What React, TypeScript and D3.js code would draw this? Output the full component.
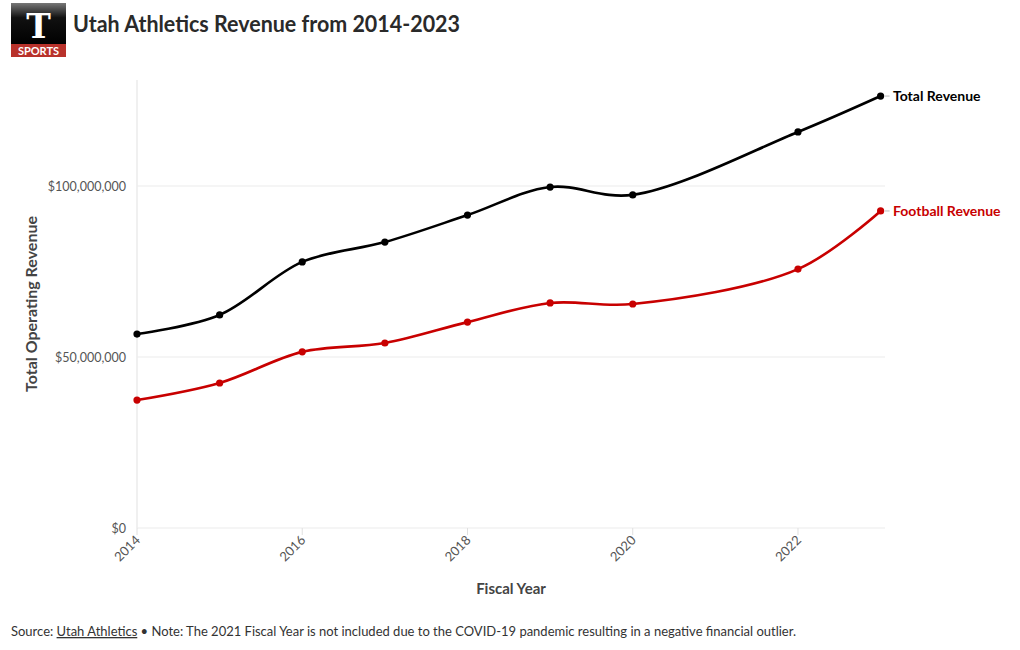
import React from "react";
import * as d3 from "d3";

const years = [2014, 2015, 2016, 2017, 2018, 2019, 2020, 2022, 2023];
const totalRevenue = [56.7e6, 62.3e6, 77.8e6, 83.6e6, 91.5e6, 99.7e6, 97.4e6, 115.8e6, 126.3e6];
const footballRevenue = [37.4e6, 42.4e6, 51.5e6, 54.1e6, 60.2e6, 65.8e6, 65.5e6, 75.7e6, 92.7e6];
const yTicks = [0, 50e6, 100e6];
const xTicks = [2014, 2016, 2018, 2020, 2022];
const seriesNames = ["Total Revenue", "Football Revenue"];

const W = 1020;
const H = 650;
const FONT = "Lato, 'Open Sans', sans-serif";

export default function App() {
  const x = d3.scaleLinear().domain([2014, 2023]).range([137, 880.6]);
  const y = d3.scaleLinear().domain([0, 100e6]).range([528, 186]);
  const fmt = (v: number) => "$" + d3.format(",")(v);

  const series = [
    { name: seriesNames[0], values: totalRevenue, color: "#000000" },
    { name: seriesNames[1], values: footballRevenue, color: "#c80000" },
  ];

  const line = d3
    .line<[number, number]>()
    .x((d) => x(d[0]))
    .y((d) => y(d[1]))
    .curve(d3.curveCatmullRom.alpha(0.5));

  return (
    <svg width={W} height={H} style={{ position: "absolute", left: 0, top: 0, background: "#fff" }}>
      <defs>
        <linearGradient id="logoGrad" x1="0" y1="0" x2="0" y2="1">
          <stop offset="0" stopColor="#777" />
          <stop offset="0.35" stopColor="#111" />
          <stop offset="1" stopColor="#000" />
        </linearGradient>
      </defs>
      <rect x={0} y={0} width={W} height={H} fill="#fff" />

      {/* Logo */}
      <rect x={11} y={3} width={55} height={42} fill="url(#logoGrad)" />
      <text x={38.5} y={38} textAnchor="middle" fill="#fff" fontFamily="'DejaVu Serif', serif" fontWeight={700} fontSize={33}>
        T
      </text>
      <rect x={11} y={44} width={55} height={13} fill="#b8322b" />
      <text x={38.5} y={55} textAnchor="middle" fill="#fff" fontFamily={FONT} fontWeight={700} fontSize={11}>
        SPORTS
      </text>

      {/* Title */}
      <text x={73} y={32} fill="#2a2a2a" fontFamily={FONT} fontWeight={700} fontSize={22} textLength={387} lengthAdjust="spacingAndGlyphs">
        Utah Athletics Revenue from 2014-2023
      </text>

      {/* Grid */}
      {yTicks.map((t) => (
        <line key={"g" + t} x1={137} x2={885} y1={y(t)} y2={y(t)} stroke="#ebebeb" strokeWidth={1} />
      ))}
      <line x1={137} x2={137} y1={80} y2={528} stroke="#ebebeb" strokeWidth={1.5} />
      {xTicks.map((t) => (
        <line key={"xt" + t} x1={x(t)} x2={x(t)} y1={528} y2={535} stroke="#e0e0e0" strokeWidth={1} />
      ))}

      {/* Y tick labels */}
      {yTicks.map((t) => (
        <text key={"yl" + t} x={126} y={y(t) + 5} textAnchor="end" fill="#555" fontFamily={FONT} fontSize={12.5}>
          {fmt(t)}
        </text>
      ))}

      {/* X tick labels */}
      {xTicks.map((t) => (
        <text
          key={"xl" + t}
          transform={`translate(${x(t) + 4},${541}) rotate(-45)`}
          textAnchor="end"
          fill="#555"
          fontFamily={FONT}
          fontSize={13}
        >
          {t}
        </text>
      ))}

      {/* Axis titles */}
      <text transform={`translate(37,304) rotate(-90)`} textAnchor="middle" fill="#444" fontFamily={FONT} fontWeight={700} fontSize={16}>
        Total Operating Revenue
      </text>
      <text x={511} y={594} textAnchor="middle" fill="#444" fontFamily={FONT} fontWeight={700} fontSize={15}>
        Fiscal Year
      </text>

      {/* Lines */}
      {series.map((s) => {
        const pts: [number, number][] = years.map((yr, i) => [yr, s.values[i]]);
        const last = pts[pts.length - 1];
        return (
          <g key={s.name}>
            <path d={line(pts) || ""} fill="none" stroke={s.color} strokeWidth={2.6} />
            {pts.map((p, i) => (
              <circle key={i} cx={x(p[0])} cy={y(p[1])} r={3.6} fill={s.color} />
            ))}
            <line x1={x(last[0]) + 4} x2={x(last[0]) + 9} y1={y(last[1])} y2={y(last[1])} stroke="#bbb" strokeWidth={1} />
            <text x={893} y={y(last[1]) + 5} fill={s.color} fontFamily={FONT} fontWeight={700} fontSize={14}>
              {s.name}
            </text>
          </g>
        );
      })}

      {/* Footer */}
      <text x={11} y={636} fill="#333" fontFamily={FONT} fontSize={13} textLength={785} lengthAdjust="spacingAndGlyphs">
        Source:{" "}
        <tspan textDecoration="underline" style={{ textDecoration: "underline" }}>
          Utah Athletics
        </tspan>{" "}
        • Note: The 2021 Fiscal Year is not included due to the COVID-19 pandemic resulting in a negative financial outlier.
      </text>
    </svg>
  );
}
